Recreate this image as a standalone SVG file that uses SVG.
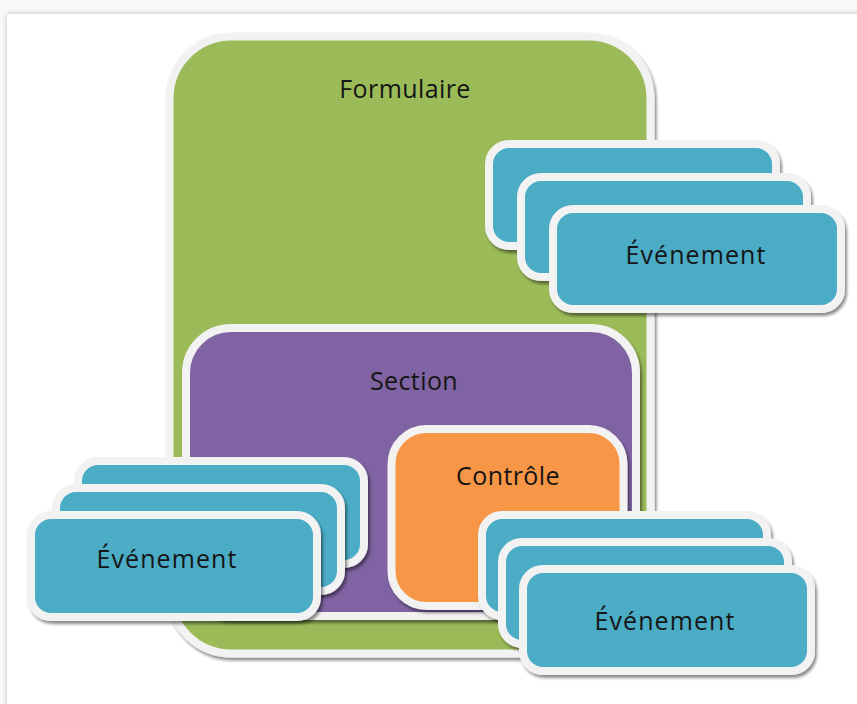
<svg xmlns="http://www.w3.org/2000/svg" width="857" height="704" viewBox="0 0 857 704">
<defs>
<filter id="frame" x="-5%" y="-5%" width="110%" height="110%"><feDropShadow dx="0" dy="0" stdDeviation="2.5" flood-color="#000" flood-opacity="0.25"/></filter>
<filter id="sh" x="-10%" y="-10%" width="125%" height="130%"><feDropShadow dx="2" dy="3" stdDeviation="1.5" flood-color="#000" flood-opacity="0.45"/></filter>
</defs>
<style>
.box{stroke:#f2f2f2;stroke-width:8;filter:url(#sh)}
.green{fill:#9bbb59}
.purple{fill:#8064a2}
.orange{fill:#f79646}
.blue{fill:#4bacc6}
.lbl{font-family:"Open Sans","Liberation Sans",sans-serif;font-size:25px;fill:#151515;text-anchor:middle;letter-spacing:0.4px}
.ev{letter-spacing:1.1px}
</style>
<rect x="0" y="0" width="857" height="704" fill="#f8f8f8"/>
<rect x="7" y="14" width="870" height="710" fill="#ffffff" filter="url(#frame)"/>
<g id="formulaire">
<rect class="box green" x="169.5" y="36.5" width="481" height="617" rx="62"/>
<text class="lbl" x="405" y="98">Formulaire</text>
</g>
<g id="evenements-formulaire">
<rect class="box blue" x="489" y="144" width="287" height="102" rx="20"/>
<rect class="box blue" x="521" y="177" width="286" height="100" rx="20"/>
<g id="evenement-formulaire">
<rect class="box blue" x="553" y="209" width="288" height="100" rx="20"/>
<text class="lbl ev" x="696" y="264">Événement</text>
</g>
</g>
<g id="section">
<rect class="box purple" x="186" y="328" width="450" height="288" rx="45"/>
<text class="lbl" x="414" y="390">Section</text>
</g>
<g id="evenements-section">
<rect class="box blue" x="78" y="461" width="286" height="103" rx="20"/>
<rect class="box blue" x="56" y="488" width="285" height="103" rx="20"/>
<g id="evenement-section">
<rect class="box blue" x="31" y="515" width="286" height="102" rx="20"/>
<text class="lbl ev" x="167" y="568">Événement</text>
</g>
</g>
<g id="controle">
<rect class="box orange" x="391.5" y="429" width="232" height="177" rx="35"/>
<text class="lbl" x="508" y="485">Contrôle</text>
</g>
<g id="evenements-controle">
<rect class="box blue" x="482" y="515" width="285" height="101" rx="20"/>
<rect class="box blue" x="502" y="542" width="286" height="102" rx="20"/>
<g id="evenement-controle">
<rect class="box blue" x="523" y="569" width="288" height="102" rx="20"/>
<text class="lbl ev" x="665" y="630">Événement</text>
</g>
</g>
<g id="connectors"/>
</svg>
